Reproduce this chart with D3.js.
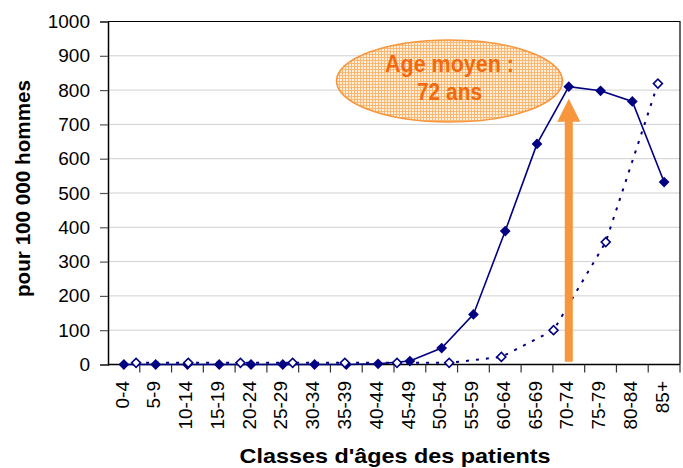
<!DOCTYPE html>
<html>
<head>
<meta charset="utf-8">
<script src="https://cdn.jsdelivr.net/npm/d3@7"></script>
<style>
  html, body { margin: 0; padding: 0; background: #ffffff; }
  svg { display: block; font-family: "Liberation Sans", Arial, sans-serif; }
</style>
</head>
<body>
<svg id="chart" width="683" height="468"></svg>
<script>
// ---- data ----
const categories = ["0-4","5-9","10-14","15-19","20-24","25-29","30-34","35-39","40-44",
                    "45-49","50-54","55-59","60-64","65-69","70-74","75-79","80-84","85+"];
const seriesMain = [0,0,0,0,0,0,0,0,2,10,48,146,389,643,810,798,767,532];
const secondaryCategories = ["s1","s2","s3","s4","s5","s6","s7","s8","s9","s10","s11"];
const seriesSecondary = [5,5,5,5,5,5,5,22,100,357,819];
const yTicks = [0,100,200,300,400,500,600,700,800,900,1000];
const yTitle = "pour 100 000 hommes";
const xTitle = "Classes d'âges des patients";
const noteLines = ["Age moyen :", "72 ans"];
const arrowCategory = "70-74";
const arrowFrom = 8, arrowTo = 775;

// ---- layout ----
const svg = d3.select("#chart");
const L = 108, R = 680, T = 21.5, B = 364.5;
const navy = "#000080";
const orange = "#f7963c";

const x = d3.scaleBand().domain(categories).range([L, R]).padding(0);
const x2 = d3.scaleBand().domain(secondaryCategories).range([L + 2, R + 4]).padding(0);
const y = d3.scaleLinear().domain([0, 1000]).range([B, T]);

// gridlines
svg.append("g").selectAll("line").data(yTicks.filter(d => d > 0 && d < 1000)).join("line")
  .attr("x1", L).attr("x2", R)
  .attr("y1", d => y(d)).attr("y2", d => y(d))
  .attr("stroke", "#d0d0d0").attr("stroke-width", 1);

// plot border (top/right)
svg.append("path")
  .attr("d", `M${L},${T}H${R}V${B}`)
  .attr("fill", "none").attr("stroke", "#000").attr("stroke-width", 1.2);

// y axis
const yAxis = svg.append("g").attr("transform", `translate(${L},0)`)
  .call(d3.axisLeft(y).tickValues(yTicks).tickSize(8).tickPadding(10).tickFormat(d3.format("d")));
yAxis.select(".domain").attr("stroke", "#000").attr("stroke-width", 1.5);
yAxis.selectAll(".tick line").attr("stroke", "#555").attr("stroke-width", 1.2);
yAxis.selectAll("text").attr("font-size", 19).attr("fill", "#000")
  .attr("font-family", "Liberation Sans, Arial, sans-serif");

// x axis (ticks at band boundaries)
const xAxisG = svg.append("g");
xAxisG.append("line").attr("x1", L).attr("x2", R).attr("y1", B).attr("y2", B)
  .attr("stroke", "#000").attr("stroke-width", 1.5);
xAxisG.selectAll("line.tk").data(categories).join("line").attr("class", "tk")
  .attr("x1", d => x(d) + x.bandwidth()).attr("x2", d => x(d) + x.bandwidth())
  .attr("y1", B).attr("y2", B + 8)
  .attr("stroke", "#333").attr("stroke-width", 1.2);
xAxisG.selectAll("text").data(categories).join("text")
  .attr("transform", d => `translate(${x(d) + x.bandwidth() / 2 - 2},381) rotate(-90)`)
  .attr("text-anchor", "end").attr("dy", "0.35em")
  .attr("font-size", 19).attr("fill", "#000")
  .text(d => d);

// main series (solid)
const lineMain = d3.line().x((d, i) => x(categories[i]) + x.bandwidth() / 2).y(d => y(d));
svg.append("path").datum(seriesMain).attr("d", lineMain)
  .attr("fill", "none").attr("stroke", navy).attr("stroke-width", 1.6);
svg.append("g").selectAll("path").data(seriesMain).join("path")
  .attr("d", d3.symbol().type(d3.symbolSquare).size(58)())
  .attr("transform", (d, i) => `translate(${x(categories[i]) + x.bandwidth() / 2},${y(d)}) rotate(45)`)
  .attr("fill", navy);

// secondary series (dotted, hollow)
const lineSec = d3.line().x((d, i) => x2(secondaryCategories[i]) + x2.bandwidth() / 2).y(d => y(d));
svg.append("path").datum(seriesSecondary).attr("d", lineSec)
  .attr("fill", "none").attr("stroke", navy).attr("stroke-width", 2)
  .attr("stroke-dasharray", "3,7");
svg.append("g").selectAll("path").data(seriesSecondary).join("path")
  .attr("d", d3.symbol().type(d3.symbolSquare).size(40)())
  .attr("transform", (d, i) => `translate(${x2(secondaryCategories[i]) + x2.bandwidth() / 2},${y(d)}) rotate(45)`)
  .attr("fill", "#fff").attr("stroke", navy).attr("stroke-width", 1.6);

// annotation ellipse with hatch pattern
const defs = svg.append("defs");
const pat = defs.append("pattern").attr("id", "hatch").attr("patternUnits", "userSpaceOnUse")
  .attr("width", 3).attr("height", 3);
pat.append("rect").attr("width", 3).attr("height", 3).attr("fill", "#ffeedb");
pat.append("path").attr("d", "M0,0.5H3M0.5,0V3").attr("stroke", "#f9b872").attr("stroke-width", 1);
svg.append("ellipse").attr("cx", 449.5).attr("cy", 81).attr("rx", 113).attr("ry", 41)
  .attr("fill", "url(#hatch)").attr("stroke", orange).attr("stroke-width", 1.5);
const noteLen = [129, 65];
svg.append("g").selectAll("text").data(noteLines).join("text")
  .attr("x", 449.5).attr("y", (d, i) => 72 + i * 27.5)
  .attr("text-anchor", "middle").attr("font-size", 23).attr("font-weight", "bold")
  .attr("textLength", (d, i) => noteLen[i]).attr("lengthAdjust", "spacingAndGlyphs")
  .attr("fill", "#f26a10").text(d => d);

// arrow
const ax = x(arrowCategory) + x.bandwidth() / 2;
const headLen = 23, headHalf = 11.5, shaftHalf = 4;
const yTip = y(arrowTo), yBot = y(arrowFrom);
svg.append("path")
  .attr("d", `M${ax - shaftHalf},${yBot}V${yTip + headLen}H${ax - headHalf}L${ax},${yTip}L${ax + headHalf},${yTip + headLen}H${ax + shaftHalf}V${yBot}Z`)
  .attr("fill", orange);

// axis titles
svg.append("text")
  .attr("transform", `translate(30,188.5) rotate(-90)`)
  .attr("text-anchor", "middle").attr("font-size", 20).attr("font-weight", "bold")
  .attr("textLength", 217).attr("lengthAdjust", "spacingAndGlyphs")
  .text(yTitle);
svg.append("text")
  .attr("x", 395).attr("y", 463)
  .attr("text-anchor", "middle").attr("font-size", 21).attr("font-weight", "bold")
  .attr("textLength", 311).attr("lengthAdjust", "spacingAndGlyphs")
  .text(xTitle);
</script>
</body>
</html>
